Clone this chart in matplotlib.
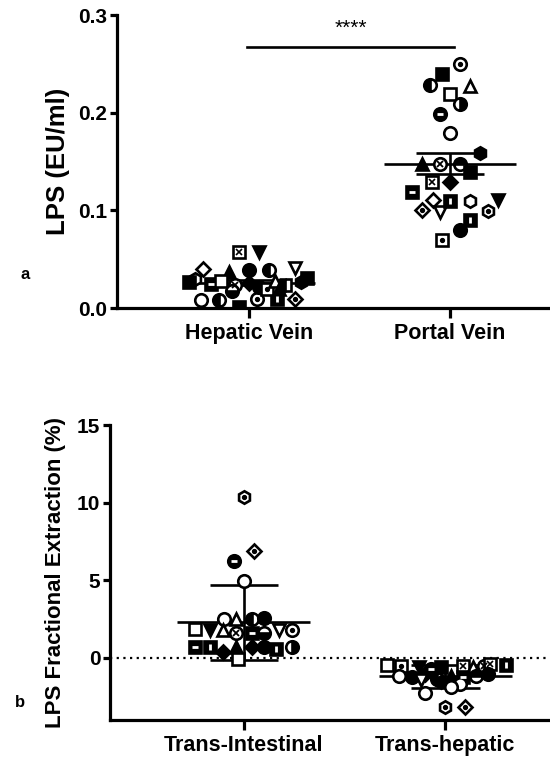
import numpy as np
import matplotlib
matplotlib.use("Agg")
import matplotlib.pyplot as plt

plt.rcParams['font.family'] = ['Liberation Sans', 'DejaVu Sans']
plt.rcParams['font.weight'] = 'bold'
plt.rcParams['axes.labelweight'] = 'bold'

# panel a: LPS (EU/ml)
cats_a = ["Hepatic Vein", "Portal Vein"]
hv_vals = [0.058, 0.058, 0.040, 0.037, 0.039, 0.039, 0.041, 0.031, 0.008, 0.008,
           0.009, 0.009, 0.009, 0.001, 0.030, 0.027, 0.025, 0.028, 0.024, 0.026,
           0.022, 0.020, 0.028, 0.024, 0.027, 0.018, 0.020]
hv_dx = [-0.05, 0.05, -0.23, -0.10, 0.0, 0.10, 0.23, 0.29, -0.24, -0.15,
         0.04, 0.14, 0.23, -0.05, -0.27, -0.30, -0.19, -0.14, -0.07, 0.0,
         0.05, 0.09, 0.13, 0.18, 0.26, -0.085, 0.15]
hv_mk = ["s_x", "v_f", "D", "^_f", "o_f", "o_left", "v", "s_f", "o", "o_left",
         "o_dot", "s_vbar", "D_dot", "s_f", "h", "s_f", "s_bar", "s", "o_cross", "D_f",
         "o_f", "s_dot", "^", "s_left", "h_f", "o_bottom", "^_f"]

pv_vals = [0.250, 0.240, 0.228, 0.227, 0.219, 0.209, 0.199, 0.179, 0.159, 0.148,
           0.148, 0.148, 0.139, 0.129, 0.129, 0.119, 0.111, 0.100, 0.098, 0.110,
           0.110, 0.099, 0.111, 0.090, 0.080, 0.070]
pv_dx = [0.05, -0.04, -0.10, 0.10, 0.0, 0.05, -0.05, 0.0, 0.15, -0.14,
         -0.05, 0.05, 0.10, -0.09, 0.0, -0.19, -0.085, -0.14, -0.05, 0.0,
         0.10, 0.19, 0.24, 0.10, 0.05, -0.04]
pv_mk = ["o_dot", "s_f", "o_left", "^", "s", "o_right", "o_bar", "o", "h_f", "^_f",
         "o_cross", "o_top", "s_f", "s_x", "D_f", "s_bar", "D", "D_dot", "v", "s_vbar",
         "h", "h_dot", "v_f", "s_vbar", "o_f", "s_dot"]

# panel b: LPS fractional extraction (%)
cats_b = ["Trans-Intestinal", "Trans-hepatic"]
ti_vals = [10.37, 6.9, 6.25, 4.96, 2.5, 2.5, 2.5, 2.6, 1.87, 1.8,
           1.8, 1.6, 1.6, 1.6, 1.8, 1.8, 0.7, 0.7, 0.4, 0.7,
           0.7, 0.7, 0.6, 0.7, -0.1]
ti_dx = [0.0, 0.05, -0.05, 0.0, -0.10, -0.04, 0.04, 0.10, -0.245, -0.17,
         -0.105, -0.04, 0.04, 0.10, 0.175, 0.24, -0.245, -0.17, -0.105, -0.04,
         0.04, 0.10, 0.16, 0.24, -0.03]
ti_mk = ["h_dot", "D_dot", "o_bar", "o", "o", "^", "o_left", "o_f", "s", "v_f",
         "^", "o_cross", "s_bar", "o_bottom", "v", "o_dot", "s_bar", "s_vbar", "D_f", "^_f",
         "D_f", "o_f", "s_vbar", "o_right", "s"]

th_vals = [-0.45, -0.5, -0.6, -0.7, -0.6, -0.5, -0.6, -0.55, -0.4, -0.45,
           -1.15, -1.25, -1.05, -1.35, -1.15, -1.25, -1.15, -1.05, -1.45, -1.55,
           -1.65, -2.25, -1.87, -3.15, -3.15]
th_dx = [-0.29, -0.22, -0.13, -0.07, -0.02, 0.09, 0.14, 0.19, 0.22, 0.30,
         -0.23, -0.165, -0.10, -0.04, 0.03, 0.09, 0.155, 0.21, -0.12, -0.02,
         0.075, -0.10, 0.03, 0.0, 0.10]
th_mk = ["s", "s_dot", "v_f", "o_bar", "s_f", "s_x", "^", "o_cross", "s_x", "s_vbar",
         "o", "o_f", "D_f", "o_left", "^_f", "s_bar", "o_top", "o_f", "v", "h_f",
         "o", "o", "o", "h_dot", "D_dot"]

MS = 9
MEW = 1.9
LW = 1.9


def draw_point(ax, x, y, code):
    base, _, mod = code.partition("_")
    ms = MS * 0.8 if base == "D" else MS
    kw = dict(marker=base, ms=ms, mew=MEW, mec="k", ls="none", zorder=3)
    if mod in ("left", "right", "top", "bottom"):
        ax.plot(x, y, fillstyle=mod, mfc="k", markerfacecoloralt="white", **kw)
    elif mod in ("f", "bar", "vbar"):
        ax.plot(x, y, mfc="k", **kw)
    else:
        ax.plot(x, y, mfc="white", **kw)
    if mod == "dot":
        ax.plot(x, y, marker="o", ms=2.8, mfc="k", mec="k", ls="none", zorder=4)
    elif mod == "x":
        ax.plot(x, y, marker="x", ms=4.5, mew=1.2, mec="k", ls="none", zorder=4)
    elif mod == "cross":
        ax.plot(x, y, marker="x", ms=5, mew=1.3, mec="k", ls="none", zorder=4)
    elif mod == "bar":
        ax.plot(x, y, marker="_", ms=5, mew=2, mec="white", ls="none", zorder=4)
    elif mod == "vbar":
        ax.plot(x, y, marker="|", ms=5, mew=2, mec="white", ls="none", zorder=4)


def draw_group(ax, pos, vals, dx, mk, err):
    vals = np.asarray(vals)
    m = vals.mean()
    sd = vals.std(ddof=1)
    e = sd / np.sqrt(len(vals)) if err == "sem" else sd
    ax.hlines(m, pos - 0.33, pos + 0.33, colors="k", lw=LW, zorder=2)
    ax.vlines(pos, m - e, m + e, colors="k", lw=LW, zorder=2)
    ax.hlines([m - e, m + e], pos - 0.17, pos + 0.17, colors="k", lw=LW, zorder=2)
    for v, d, c in zip(vals, dx, mk):
        draw_point(ax, pos + d, v, c)


def style_axes(ax):
    for s in ["top", "right"]:
        ax.spines[s].set_visible(False)
    for s in ["left", "bottom"]:
        ax.spines[s].set_linewidth(2.3)
    ax.tick_params(width=2.3, length=5, labelsize=15, pad=2)
    ax.tick_params(axis="x", length=7, labelsize=15.5, pad=4)


fig = plt.figure(figsize=(5.5, 7.59), dpi=100)

ax1 = fig.add_axes([0.2127, 0.594, 0.7873, 0.386])
draw_group(ax1, 0, hv_vals, hv_dx, hv_mk, "sem")
draw_group(ax1, 1, pv_vals, pv_dx, pv_mk, "sem")
ax1.set_xlim(-0.66, 1.5)
ax1.set_ylim(0, 0.3)
ax1.set_yticks([0.0, 0.1, 0.2, 0.3])
ax1.set_yticklabels(["0.0", "0.1", "0.2", "0.3"])
ax1.set_xticks([0, 1])
ax1.set_xticklabels(cats_a)
ax1.set_ylabel("LPS (EU/ml)", fontsize=18.5, labelpad=6)
ax1.plot([-0.01, 1.02], [0.267, 0.267], color="k", lw=LW, clip_on=False)
ax1.text(0.505, 0.277, "****", ha="center", va="bottom", fontsize=15, fontweight="normal")
style_axes(ax1)

ax2 = fig.add_axes([0.2, 0.0514, 0.8, 0.3886])
ax2.axhline(0, color="k", lw=1.6, ls=(0, (1, 2)), zorder=1)
draw_group(ax2, 0, ti_vals, ti_dx, ti_mk, "sd")
draw_group(ax2, 1, th_vals, th_dx, th_mk, "sd")
ax2.set_xlim(-0.665, 1.52)
ax2.set_ylim(-4, 15)
ax2.set_yticks([0, 5, 10, 15])
ax2.set_xticks([0, 1])
ax2.set_xticklabels(cats_b)
ax2.set_ylabel("LPS Fractional Extraction (%)", fontsize=16, labelpad=8)
style_axes(ax2)

fig.text(0.045, 0.638, "a", fontsize=12, ha="center", va="center")
fig.text(0.036, 0.075, "b", fontsize=12, ha="center", va="center")

fig.savefig("out.png", dpi=100)
